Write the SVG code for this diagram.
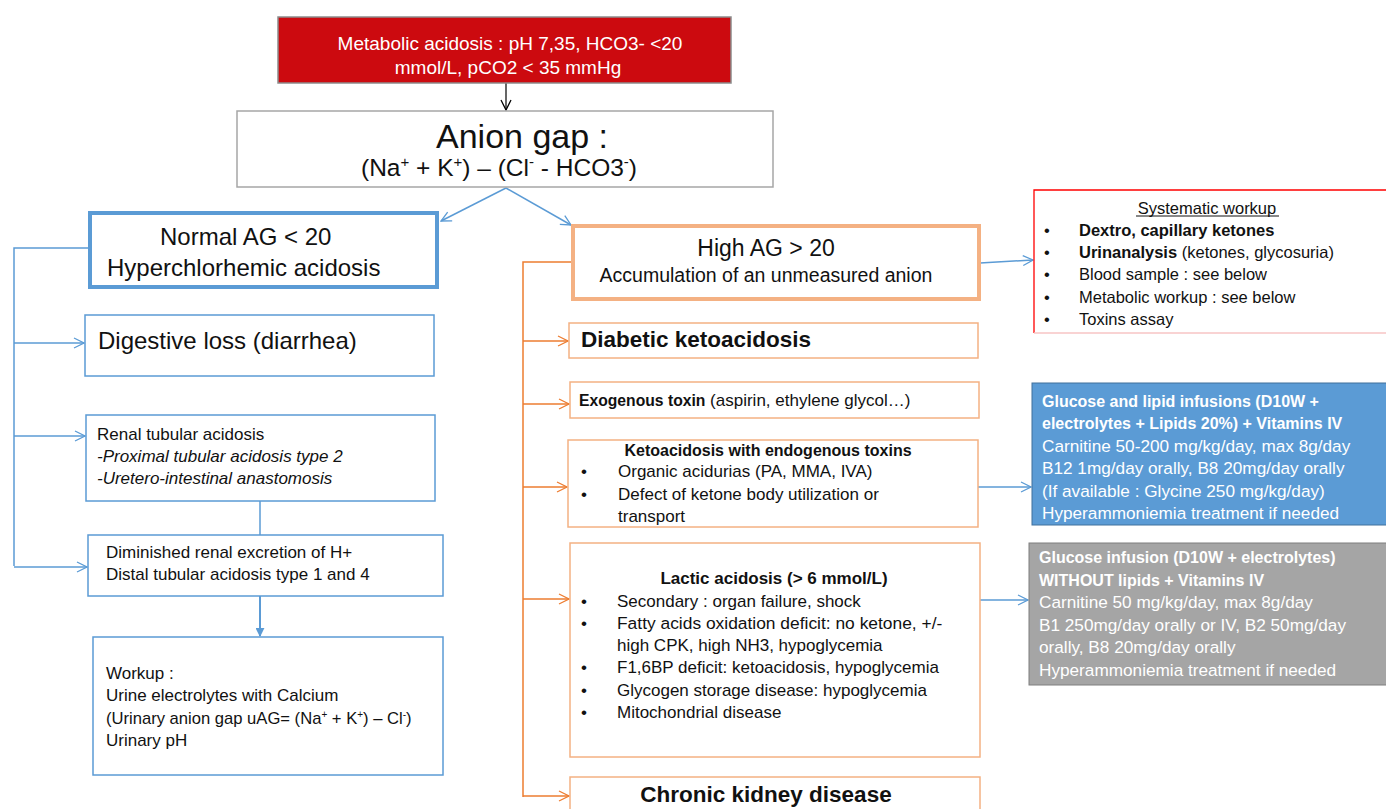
<svg xmlns="http://www.w3.org/2000/svg" width="1386" height="809" viewBox="0 0 1386 809">
<defs>
<style>
text{font-family:"Liberation Sans",Arial,sans-serif;fill:#111}
.s{font-size:17px}
.m{font-size:16.5px}
.r{font-size:17.2px}
.rb{font-size:16px;font-weight:bold}
.b{font-weight:bold}
.w{fill:#fff}
.c{text-anchor:middle}
.bl{fill:none;stroke:#5B9BD5;stroke-width:1.5}
.or{fill:none;stroke:#ED7D31;stroke-width:1.5}
.ob{fill:#fff;stroke:#F4B183;stroke-width:1.5}
.bb{fill:#fff;stroke:#5B9BD5;stroke-width:1.5}
</style>
<marker id="ab" viewBox="0 0 12 12" refX="11" refY="6" markerWidth="12" markerHeight="12" markerUnits="userSpaceOnUse" orient="auto"><path d="M1,1 L11,6 L1,11" fill="none" stroke="#5B9BD5" stroke-width="1.3"/></marker>
<marker id="ao" viewBox="0 0 12 12" refX="11" refY="6" markerWidth="12" markerHeight="12" markerUnits="userSpaceOnUse" orient="auto"><path d="M1,1 L11,6 L1,11" fill="none" stroke="#ED7D31" stroke-width="1.3"/></marker>
<marker id="ak" viewBox="0 0 12 12" refX="11" refY="6" markerWidth="12" markerHeight="12" markerUnits="userSpaceOnUse" orient="auto"><path d="M1,1 L11,6 L1,11" fill="none" stroke="#000" stroke-width="1.3"/></marker>
<marker id="af" viewBox="0 0 10 10" refX="9" refY="5" markerWidth="9" markerHeight="9" markerUnits="userSpaceOnUse" orient="auto"><path d="M0,0 L10,5 L0,10 Z" fill="#5B9BD5"/></marker>
</defs>

<g id="connectors">
<line x1="506" y1="83" x2="506" y2="110" stroke="#000" stroke-width="1.2" marker-end="url(#ak)"/>
<line x1="506" y1="188" x2="441" y2="221" class="bl" marker-end="url(#ab)"/>
<line x1="506" y1="188" x2="571" y2="225" class="bl" marker-end="url(#ab)"/>
<polyline points="89,248 14,248 14,566" class="bl"/>
<line x1="14" y1="343" x2="84" y2="343" class="bl" marker-end="url(#ab)"/>
<line x1="14" y1="436" x2="85" y2="436" class="bl" marker-end="url(#ab)"/>
<line x1="14" y1="567" x2="87" y2="567" class="bl" marker-end="url(#ab)"/>
<line x1="260" y1="501" x2="260" y2="535" class="bl"/>
<line x1="260" y1="596" x2="260" y2="636" stroke="#5B9BD5" stroke-width="2" marker-end="url(#af)"/>
<polyline points="571,262 523,262 523,797" class="or"/>
<line x1="523" y1="341" x2="568" y2="341" class="or" marker-end="url(#ao)"/>
<line x1="523" y1="404" x2="569" y2="404" class="or" marker-end="url(#ao)"/>
<line x1="523" y1="487" x2="567" y2="487" class="or" marker-end="url(#ao)"/>
<line x1="523" y1="599" x2="569" y2="599" class="or" marker-end="url(#ao)"/>
<line x1="523" y1="796" x2="569" y2="796" class="or" marker-end="url(#ao)"/>
<line x1="980" y1="263" x2="1033" y2="260" class="bl" marker-end="url(#ab)"/>
<line x1="978" y1="487" x2="1031" y2="487" class="bl" marker-end="url(#ab)"/>
<line x1="980" y1="600" x2="1028" y2="600" class="bl" marker-end="url(#ab)"/>
</g>

<g id="start">
<rect x="278" y="17" width="453" height="66" fill="#CC0A0F" stroke="#8C8C8C" stroke-width="1.5"/>
<text x="510" y="50" class="c w" font-size="19">Metabolic acidosis : pH 7,35, HCO3- &lt;20</text>
<text x="508" y="74" class="c w" font-size="19">mmol/L, pCO2 &lt; 35 mmHg</text>
</g>

<g id="aniongap">
<rect x="237" y="111" width="536" height="76" fill="#fff" stroke="#A6A6A6" stroke-width="1.5"/>
<text x="522" y="148" class="c" font-size="34">Anion gap :</text>
<text x="499" y="176" class="c" font-size="24.5">(Na<tspan font-size="15" dy="-9">+</tspan><tspan dy="9"> + K</tspan><tspan font-size="15" dy="-9">+</tspan><tspan dy="9">) – (Cl</tspan><tspan font-size="15" dy="-9">-</tspan><tspan dy="9"> - HCO3</tspan><tspan font-size="15" dy="-9">-</tspan><tspan dy="9">)</tspan></text>
</g>

<g id="normal">
<rect x="90" y="213" width="347" height="74" fill="#fff" stroke="#5B9BD5" stroke-width="4"/>
<text x="160" y="245" font-size="24">Normal AG &lt; 20</text>
<text x="107" y="276" font-size="24">Hyperchlorhemic acidosis</text>
</g>

<g id="digestive">
<rect x="85" y="315" width="349" height="61" class="bb"/>
<text x="98" y="349" font-size="24">Digestive loss (diarrhea)</text>
</g>

<g id="renal">
<rect x="86" y="415" width="349" height="86" class="bb"/>
<text x="97" y="440" class="s">Renal tubular acidosis</text>
<text x="97" y="462" class="s" font-style="italic">-Proximal tubular acidosis type 2</text>
<text x="97" y="484" class="s" font-style="italic">-Uretero-intestinal anastomosis</text>
</g>

<g id="diminished">
<rect x="88" y="535" width="355" height="61" class="bb"/>
<text x="106" y="558" class="s">Diminished renal excretion of H+</text>
<text x="106" y="580" class="s">Distal tubular acidosis type 1 and 4</text>
</g>

<g id="workup">
<rect x="93" y="637" width="350" height="138" class="bb"/>
<text x="106" y="679" class="s">Workup :</text>
<text x="106" y="701" class="s">Urine electrolytes with Calcium</text>
<text x="106" y="724" font-size="16.6">(Urinary anion gap uAG= (Na<tspan font-size="10" dy="-6">+</tspan><tspan dy="6"> + K</tspan><tspan font-size="10" dy="-6">+</tspan><tspan dy="6">) – Cl</tspan><tspan font-size="10" dy="-6">-</tspan><tspan dy="6">)</tspan></text>
<text x="106" y="746" class="s">Urinary pH</text>
</g>

<g id="high">
<rect x="573" y="226" width="406" height="73" fill="#fff" stroke="#F4B183" stroke-width="4"/>
<text x="766" y="256" class="c" font-size="23">High AG &gt; 20</text>
<text x="766" y="282" class="c" font-size="19.5">Accumulation of an unmeasured anion</text>
</g>

<g id="diabetic">
<rect x="569" y="323" width="409" height="35" class="ob"/>
<text x="581" y="347" class="b" font-size="22.5">Diabetic ketoacidosis</text>
</g>

<g id="exogenous">
<rect x="570" y="382" width="409" height="36" class="ob"/>
<text x="579" y="406" class="s"><tspan class="b" font-size="15.7">Exogenous toxin</tspan> (aspirin, ethylene glycol…)</text>
</g>

<g id="ketoendo">
<rect x="568" y="440" width="410" height="87" class="ob"/>
<text x="768" y="456" class="c b" font-size="16">Ketoacidosis with endogenous toxins</text>
<text x="581" y="477" class="s">•</text><text x="618" y="477" class="s">Organic acidurias (PA, MMA, IVA)</text>
<text x="581" y="500" class="s">•</text><text x="618" y="500" class="s">Defect of ketone body utilization or</text>
<text x="618" y="522" class="s">transport</text>
</g>

<g id="lactic">
<rect x="570" y="543" width="410" height="214" class="ob"/>
<text x="774" y="584" class="c b" font-size="17">Lactic acidosis (&gt; 6 mmol/L)</text>
<text x="581" y="607" class="s">•</text><text x="617" y="607" class="s">Secondary : organ failure, shock</text>
<text x="581" y="629" class="s">•</text><text x="617" y="629" font-size="17.4">Fatty acids oxidation deficit: no ketone, +/-</text>
<text x="617" y="651" class="s">high CPK, high NH3, hypoglycemia</text>
<text x="581" y="673" class="s">•</text><text x="617" y="673" class="s">F1,6BP deficit: ketoacidosis, hypoglycemia</text>
<text x="581" y="696" class="s">•</text><text x="617" y="696" class="s">Glycogen storage disease: hypoglycemia</text>
<text x="581" y="718" class="s">•</text><text x="617" y="718" class="s">Mitochondrial disease</text>
</g>

<g id="ckd">
<rect x="570" y="777" width="410" height="40" class="ob"/>
<text x="766" y="802" class="c b" font-size="22.5">Chronic kidney disease</text>
</g>

<g id="systematic">
<path d="M1390,190 L1034,190 L1034,333" fill="none" stroke="#FF0000" stroke-width="1.3"/>
<line x1="1034" y1="333" x2="1386" y2="333" stroke="#F7C5C5" stroke-width="1.3"/>
<text x="1207" y="214" class="c m">Systematic workup</text>
<line x1="1136" y1="216" x2="1279" y2="216" stroke="#111" stroke-width="1"/>
<text x="1044" y="236" class="m">•</text><text x="1079" y="236" class="m b">Dextro, capillary ketones</text>
<text x="1044" y="258" class="m">•</text><text x="1079" y="258" class="m"><tspan class="b">Urinanalysis</tspan> (ketones, glycosuria)</text>
<text x="1044" y="280" class="m">•</text><text x="1079" y="280" class="m">Blood sample : see below</text>
<text x="1044" y="303" class="m">•</text><text x="1079" y="303" class="m">Metabolic workup : see below</text>
<text x="1044" y="325" class="m">•</text><text x="1079" y="325" class="m">Toxins assay</text>
</g>

<g id="treatment-lipids">
<rect x="1032" y="383" width="360" height="142" fill="#5B9BD5" stroke="#41719C" stroke-width="1"/>
<text x="1042" y="407" class="rb w">Glucose and lipid infusions (D10W +</text>
<text x="1042" y="429" class="rb w">electrolytes + Lipids 20%) + Vitamins IV</text>
<text x="1042" y="452" class="r w">Carnitine 50-200 mg/kg/day, max 8g/day</text>
<text x="1042" y="474" class="r w">B12 1mg/day orally, B8 20mg/day orally</text>
<text x="1042" y="497" class="r w">(If available : Glycine 250 mg/kg/day)</text>
<text x="1042" y="519" class="r w">Hyperammoniemia treatment if needed</text>
</g>

<g id="treatment-nolipids">
<rect x="1029" y="543" width="362" height="142" fill="#A5A5A5" stroke="#7F7F7F" stroke-width="1"/>
<text x="1039" y="563" class="rb w">Glucose infusion (D10W + electrolytes)</text>
<text x="1039" y="586" class="rb w">WITHOUT lipids + Vitamins IV</text>
<text x="1039" y="608" class="r w">Carnitine 50 mg/kg/day, max 8g/day</text>
<text x="1039" y="631" class="r w">B1 250mg/day orally or IV, B2 50mg/day</text>
<text x="1039" y="653" class="r w">orally, B8 20mg/day orally</text>
<text x="1039" y="676" class="r w">Hyperammoniemia treatment if needed</text>
</g>
</svg>
